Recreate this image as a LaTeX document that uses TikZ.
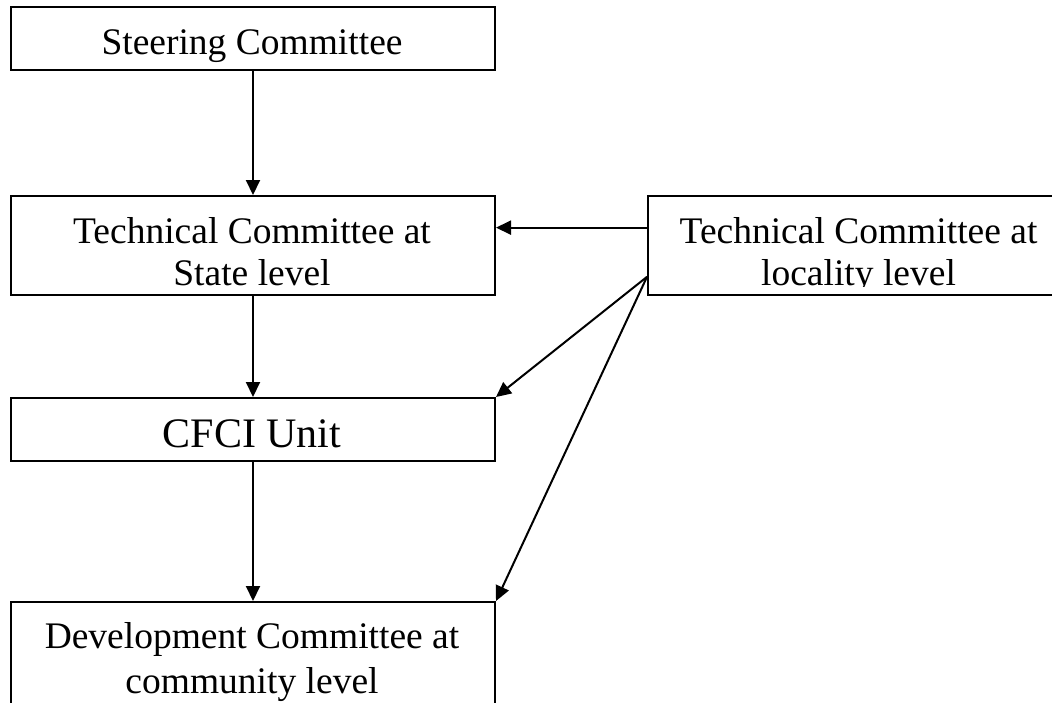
\documentclass[tikz,border=0pt]{standalone}
\usepackage{fontspec}
\setmainfont{Liberation Serif}
\usetikzlibrary{arrows.meta,calc}
\begin{document}
\begin{tikzpicture}[x=1pt,y=1pt,
  box/.style={draw, line width=2pt, inner sep=0pt, anchor=north west, minimum width=484pt},
  lbl/.style={font=\fontsize{37.5}{43}\selectfont, anchor=base, inner sep=0pt},
  arr/.style={line width=2pt, -{Triangle[length=15pt,width=14pt]}}]
\useasboundingbox (0,0) rectangle (1052,-702);
\fill[white] (0,0) rectangle (1052,-702);
% boxes
\node[box, minimum height=63pt] (steer) at (10,-6) {};
\node[box, minimum height=99pt] (state) at (10,-195) {};
\node[box, minimum width=423pt, minimum height=99pt] (loc) at (647,-195) {};
\node[box, minimum height=63pt] (cfci) at (10,-397) {};
\node[box, minimum height=130pt] (dev) at (10,-601) {};
% texts
\node[lbl] (steerT) at (252,-54) {Steering Committee};
\node[lbl] (stateT1) at (252,-243) {Technical Committee at};
\node[lbl] (stateT2) at (252,-285) {State level};
\begin{scope}
\clip (647,-195) rectangle (1070,-286);
\node[lbl] (locT1) at (858.5,-243) {Technical Committee at};
\node[lbl] (locT2) at (858.5,-285) {locality level};
\end{scope}
\node[lbl, font=\fontsize{42}{48}\selectfont] (cfciT) at (252,-447) {CFCI Unit};
\node[lbl] (devT1) at (252,-648) {Development Committee at};
\node[lbl] (devT2) at (252,-693) {community level};
% connectors
\draw[arr] (steer.south) -- (state.north);
\draw[arr] (state.south) -- (cfci.north);
\draw[arr] (cfci.south) -- (dev.north);
\draw[arr] ($(loc.north west)!0.323!(loc.south west)$) -- ($(state.north east)!0.323!(state.south east)$);
\draw[arr] ($(loc.north west)!0.81!(loc.south west)$) -- (cfci.north east);
\draw[arr] ($(loc.north west)!0.81!(loc.south west)$) -- (dev.north east);
\end{tikzpicture}
\end{document}
